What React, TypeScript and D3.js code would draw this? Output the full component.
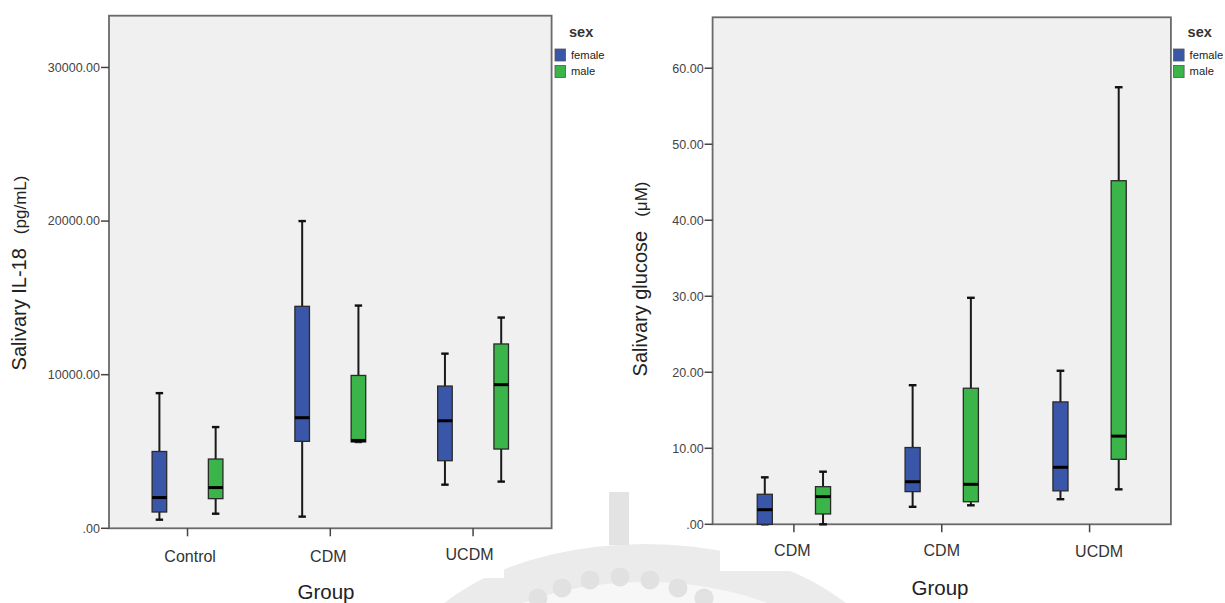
import React from "react";
import * as d3 from "d3";

// ---------- data ----------
const sexes = ["female", "male"];
const sexColors = ["#3a56a8", "#3bb54a"];

const il18Groups = ["Control", "CDM", "UCDM"];
// [min, q1, median, q3, max] per group, per sex
const il18Female = [
  [560, 1060, 2000, 5000, 8800],
  [760, 5660, 7200, 14450, 20000],
  [2840, 4400, 7000, 9260, 11370],
];
const il18Male = [
  [950, 1930, 2650, 4510, 6590],
  [5620, 5620, 5720, 9950, 14500],
  [3040, 5160, 9350, 12000, 13720],
];
const il18Ticks = [0, 10000, 20000, 30000];

const gluGroups = ["CDM ", "CDM", "UCDM"];
const gluFemale = [
  [0, 0, 1.92, 3.95, 6.18],
  [2.3, 4.3, 5.6, 10.1, 18.3],
  [3.3, 4.4, 7.5, 16.1, 20.2],
];
const gluMale = [
  [0, 1.36, 3.64, 4.95, 6.92],
  [2.5, 2.97, 5.26, 17.9, 29.8],
  [4.6, 8.55, 11.6, 45.2, 57.5],
];
const gluTicks = [0, 10, 20, 30, 40, 50, 60];

const FONT = "'Liberation Sans', Arial, sans-serif";

function fmt(v: number) {
  if (v === 0) return ".00";
  return v.toFixed(2);
}

type PanelProps = {
  left: number;
  right: number;
  top: number;
  bottom: number;
  yMax: number;
  ticks: number[];
  groups: string[];
  female: number[][];
  male: number[][];
  labelMain: string;
  labelUnit: string;
  labelX: number;
  labelY: number;
  catLabelY: number[];
  catLabelDx: number[];
  groupLabelX: number;
  groupLabelY: number;
  legendX: number;
};

function Panel(p: PanelProps) {
  const y = d3.scaleLinear().domain([0, p.yMax]).range([p.bottom, p.top]);
  const x = d3.scalePoint<string>().domain(p.groups).range([p.left, p.right]).padding(0.55);
  const step = x.step();
  const sub = d3.scalePoint<string>().domain(sexes).range([-0.197 * step, 0.197 * step]);
  const bw = 0.102 * step;
  const capW = 0.026 * step;

  const boxes: any[] = [];
  p.groups.forEach((g, gi) => {
    [p.female[gi], p.male[gi]].forEach((st, si) => {
      const cx = (x(g) as number) + (sub(sexes[si]) as number);
      const [mn, q1, md, q3, mx] = st;
      boxes.push(
        <g key={g + si}>
          <line x1={cx} x2={cx} y1={y(mx)} y2={y(q3)} stroke="#1a1a1a" strokeWidth={2} />
          <line x1={cx} x2={cx} y1={y(q1)} y2={y(mn)} stroke="#1a1a1a" strokeWidth={2} />
          <line x1={cx - capW} x2={cx + capW} y1={y(mx)} y2={y(mx)} stroke="#111" strokeWidth={2.4} />
          <line x1={cx - capW} x2={cx + capW} y1={y(mn)} y2={y(mn)} stroke="#111" strokeWidth={2.4} />
          <rect
            x={cx - bw / 2}
            y={y(q3)}
            width={bw}
            height={Math.max(1, y(q1) - y(q3))}
            fill={sexColors[si]}
            stroke="#2a2a2a"
            strokeWidth={1.3}
          />
          <line x1={cx - bw / 2} x2={cx + bw / 2} y1={y(md)} y2={y(md)} stroke="#000" strokeWidth={3} />
        </g>
      );
    });
  });

  return (
    <g>
      <rect x={p.left} y={p.top} width={p.right - p.left} height={p.bottom - p.top} fill="#f0f0f0" stroke="#6a6a6a" strokeWidth={1.8} />
      {p.ticks.map((t) => (
        <g key={t}>
          <line x1={p.left - 8} x2={p.left} y1={y(t)} y2={y(t)} stroke="#444" strokeWidth={1.5} />
          <text x={p.left - 9} y={y(t)} dy="0.35em" textAnchor="end" fontSize={12.5} fill="#444" fontFamily={FONT}>
            {fmt(t)}
          </text>
        </g>
      ))}
      {p.groups.map((g, i) => (
        <g key={g + i}>
          <line x1={x(g)} x2={x(g)} y1={p.bottom} y2={p.bottom + 8} stroke="#444" strokeWidth={1.5} />
          <text x={(x(g) as number) + p.catLabelDx[i]} y={p.catLabelY[i]} dy="0.35em" textAnchor="middle" fontSize={16} fill="#333" fontFamily={FONT}>
            {g.trim()}
          </text>
        </g>
      ))}
      {boxes}
      <text x={p.groupLabelX} y={p.groupLabelY} dy="0.35em" textAnchor="middle" fontSize={20.5} fill="#222" fontFamily={FONT}>
        Group
      </text>
      <text
        transform={`translate(${p.labelX},${p.labelY}) rotate(-90)`}
        textAnchor="middle"
        dy="0.35em"
        fill="#222"
        fontFamily={FONT}
      >
        <tspan fontSize={20}>{p.labelMain}</tspan>
        <tspan fontSize={17} dx={14}>{p.labelUnit}</tspan>
      </text>
      <g transform={`translate(${p.legendX},0)`}>
        <text x={14} y={32} dy="0.35em" fontSize={14.5} fontWeight="bold" fill="#333" fontFamily={FONT}>
          sex
        </text>
        {sexes.map((s, i) => (
          <g key={s}>
            <rect x={0} y={49 + i * 16.5} width={10.5} height={12} fill={sexColors[i]} stroke="#555" strokeWidth={0.8} />
            <text x={16} y={55 + i * 16.5} dy="0.35em" fontSize={11.2} fill="#222" fontFamily={FONT}>
              {s}
            </text>
          </g>
        ))}
      </g>
    </g>
  );
}

function Watermark() {
  const dotsX = [538, 562, 590, 620, 650, 678, 704];
  const dotsY = [598, 588, 580, 577, 580, 588, 598];
  return (
    <g>
      <ellipse cx={645} cy={690} rx={250} ry={146} fill="#ebebeb" />
      <ellipse cx={645} cy={700} rx={215} ry={118} fill="#f7f7f7" />
      {dotsX.map((dx, i) => (
        <circle key={i} cx={dx} cy={dotsY[i]} r={9.5} fill="#e1e1e1" />
      ))}
      <rect x={424} y={545} width={80} height={33} fill="#ffffff" />
      <rect x={720} y={545} width={113} height={26} fill="#ffffff" />
      <rect x={609} y={492} width={20} height={53} fill="#e3e3e3" />
    </g>
  );
}

export default function App() {
  return (
    <svg width={1225} height={603} style={{ position: "absolute", left: 0, top: 0, background: "#fff" }}>
      <rect x={0} y={0} width={1225} height={603} fill="#fff" />
      <Watermark />
      <Panel
        left={109}
        right={551.6}
        top={15.7}
        bottom={528.3}
        yMax={33370}
        ticks={il18Ticks}
        groups={il18Groups}
        female={il18Female}
        male={il18Male}
        labelMain="Salivary IL-18"
        labelUnit="(pg/mL)"
        labelX={20}
        labelY={273}
        catLabelY={[556, 556, 554]}
        catLabelDx={[2.6, -2, -3.5]}
        groupLabelX={326}
        groupLabelY={592}
        legendX={555}
      />
      <Panel
        left={712.6}
        right={1170.9}
        top={17.3}
        bottom={524.3}
        yMax={66.7}
        ticks={gluTicks}
        groups={gluGroups}
        female={gluFemale}
        male={gluMale}
        labelMain="Salivary glucose"
        labelUnit="(μM)"
        labelX={641}
        labelY={279}
        catLabelY={[550, 550, 551]}
        catLabelDx={[-1.6, 0, 9.5]}
        groupLabelX={940}
        groupLabelY={588}
        legendX={1173.6}
      />
    </svg>
  );
}
